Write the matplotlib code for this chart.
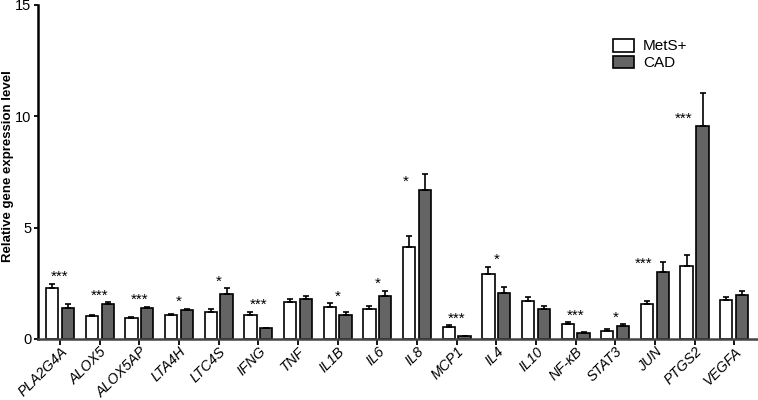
import numpy as np
import matplotlib
matplotlib.use("Agg")
import matplotlib.pyplot as plt
from matplotlib.patches import Patch

plt.rcParams['font.family'] = ['Liberation Sans', 'DejaVu Sans']

genes = ["PLA2G4A", "ALOX5", "ALOX5AP", "LTA4H", "LTC4S", "IFNG", "TNF", "IL1B", "IL6",
         "IL8", "MCP1", "IL4", "IL10", "NF-\u03baB", "STAT3", "JUN", "PTGS2", "VEGFA"]
mets = [2.28, 1.05, 0.93, 1.09, 1.20, 1.08, 1.66, 1.45, 1.36,
        4.15, 0.52, 2.94, 1.71, 0.68, 0.37, 1.57, 3.28, 1.75]
mets_err = [0.20, 0.05, 0.05, 0.05, 0.15, 0.14, 0.12, 0.15, 0.14,
            0.48, 0.09, 0.30, 0.16, 0.07, 0.06, 0.15, 0.49, 0.14]
cad = [1.39, 1.57, 1.38, 1.30, 2.02, 0.48, 1.80, 1.08, 1.92,
       6.70, 0.12, 2.05, 1.36, 0.27, 0.58, 3.03, 9.56, 1.97]
cad_err = [0.18, 0.09, 0.06, 0.06, 0.26, 0.03, 0.14, 0.12, 0.24,
           0.70, 0.03, 0.28, 0.14, 0.05, 0.08, 0.43, 1.49, 0.20]
stars = ["***", "***", "***", "*", "*", "***", "", "*", "*",
         "*", "***", "*", "", "***", "*", "***", "***", ""]

fig = plt.figure(figsize=(7.58, 4.0), dpi=100)
ax = fig.add_axes([0.0505, 0.1525, 0.949, 0.835])

x = np.arange(len(genes))
w = 0.31
off = 0.2
ekw = dict(ecolor='black', elinewidth=1.2, capsize=2.5, capthick=1.2)
ax.bar(x - off, mets, w, color='white', edgecolor='black', linewidth=1.2,
       yerr=[np.zeros(len(mets)), mets_err], error_kw=ekw, zorder=2)
ax.bar(x + off, cad, w, color='#646464', edgecolor='black', linewidth=1.2,
       yerr=[np.zeros(len(cad)), cad_err], error_kw=ekw, zorder=2)

# significance marks
for i, s in enumerate(stars):
    if not s:
        continue
    top_m = mets[i] + mets_err[i]
    top_c = cad[i] + cad_err[i]
    if cad[i] - top_m > 1.0:
        xs, ys = x[i] - 0.28, cad[i] + 0.35
    else:
        xs, ys = x[i], max(top_m, top_c) + 0.3
    ax.text(xs, ys, s, ha='center', va='center', fontsize=11)

ax.set_xlim(-0.55, len(genes) - 0.41)
ax.set_ylim(0, 15)
ax.set_yticks([0, 5, 10, 15])
ax.set_xticks(x)
ax.set_xticklabels(genes, rotation=45, ha='right', rotation_mode='anchor',
                   fontstyle='italic', fontsize=10.3)
ax.tick_params(axis='y', labelsize=10.5, length=3, width=1.3, pad=2)
ax.tick_params(axis='x', length=4, width=1.3, pad=0)
ax.spines['top'].set_visible(False)
ax.spines['right'].set_visible(False)
ax.spines['left'].set_linewidth(1.8)
ax.spines['bottom'].set_linewidth(1.8)
ax.spines['bottom'].set_color('#444444')
fig.text(0.01, 0.585, "Relative gene expression level", rotation=90, ha='center', va='center',
         fontweight='bold', fontsize=9.5)

handles = [Patch(facecolor='white', edgecolor='black', linewidth=1.2, label='MetS+'),
           Patch(facecolor='#646464', edgecolor='black', linewidth=1.2, label='CAD')]
ax.legend(handles=handles, loc='upper left', bbox_to_anchor=(0.79, 0.917), frameon=False,
          fontsize=11, handlelength=1.4, handleheight=0.9, labelspacing=0.15,
          handletextpad=0.6, borderaxespad=0)

fig.savefig("out.png", dpi=100)
